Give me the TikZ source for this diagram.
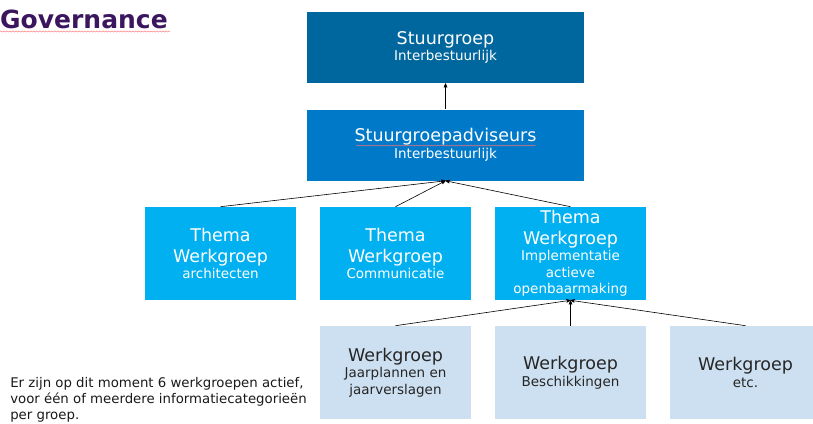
\documentclass[tikz,border=0pt]{standalone}
\usepackage{fontspec}
\setmainfont{DejaVu Sans}
\usetikzlibrary{arrows, shapes, decorations.pathmorphing}

\definecolor{steerblue}{RGB}{0,103,158}
\definecolor{advblue}{RGB}{0,121,201}
\definecolor{themeblue}{RGB}{0,176,240}
\definecolor{wgblue}{RGB}{205,224,241}
\definecolor{titlepurple}{RGB}{59,22,94}

\newcommand{\bigline}{\fontsize{17.5}{21}\selectfont}
\newcommand{\smallline}{\fontsize{13.5}{16.5}\selectfont}

\begin{document}
\begin{tikzpicture}[x=1pt, y=-1pt, ->, >=stealth', semithick, every node/.style={inner sep=0pt, align=center},
		box/.style={rectangle, font=\smallline},
		stuur/.style={box, fill=steerblue, text=white, minimum width=277pt, minimum height=71pt},
		thema/.style={box, fill=themeblue, text=white, minimum width=151pt, minimum height=93pt},
		wg/.style={box, fill=wgblue, text=black!85, minimum width=151pt, minimum height=93pt},
		squiggle/.style={-, red!55, thin, decorate, decoration={snake, amplitude=0.6pt, segment length=3pt}}]
		\useasboundingbox (0, 0) rectangle (813, 423);
		
		\node[text=titlepurple, font=\bfseries\fontsize{25}{30}\selectfont, anchor=base east] (title) at (168, 28) {Governance};
		\draw[squiggle] (0, 31.5) -- (170, 31.5);
		
		\node[stuur] (sg) at (445.5, 47.5) {\bigline Stuurgroep\\\smallline Interbestuurlijk};
		\node[stuur, fill=advblue] (sga) at (445.5, 145) {\bigline Stuurgroepadviseurs\\\smallline Interbestuurlijk};
		\draw[squiggle] (356, 145.5) -- (536, 145.5);
		
		\node[thema] (t1) at (220.5, 253.5) {\bigline Thema\\[4.5pt]\bigline Werkgroep\\\smallline architecten};
		\node[thema] (t2) at (395.5, 253.5) {\bigline Thema\\[4.5pt]\bigline Werkgroep\\\smallline Communicatie};
		\node[thema] (t3) at (570.5, 253.5) {\bigline Thema\\[4.5pt]\bigline Werkgroep\\\smallline Implementatie\\\smallline actieve\\\smallline openbaarmaking};
		
		\node[wg] (w1) at (395.5, 372.5) {\bigline Werkgroep\\\smallline Jaarplannen en\\\smallline jaarverslagen};
		\node[wg] (w2) at (570.5, 372.5) {\bigline Werkgroep\\\smallline Beschikkingen};
		\node[wg] (w3) at (745.5, 372.5) {\bigline Werkgroep\\\smallline etc.};
		
		\node[anchor=north west, align=left, font=\fontsize{13.3}{16}\selectfont, text=black!90] (note) at (10, 377) {Er zijn op dit moment 6 werkgroepen actief,\\voor één of meerdere informatiecategorieën\\per groep.};
		
		\path (sga.north) edge (sg.south)
			(t1.north) edge (sga.south)
			(t2.north) edge (sga.south)
			(t3.north) edge (sga.south)
			(w1.north) edge (t3.south)
			(w2.north) edge (t3.south)
			(w3.north) edge (t3.south);
	\end{tikzpicture}
\end{document}
